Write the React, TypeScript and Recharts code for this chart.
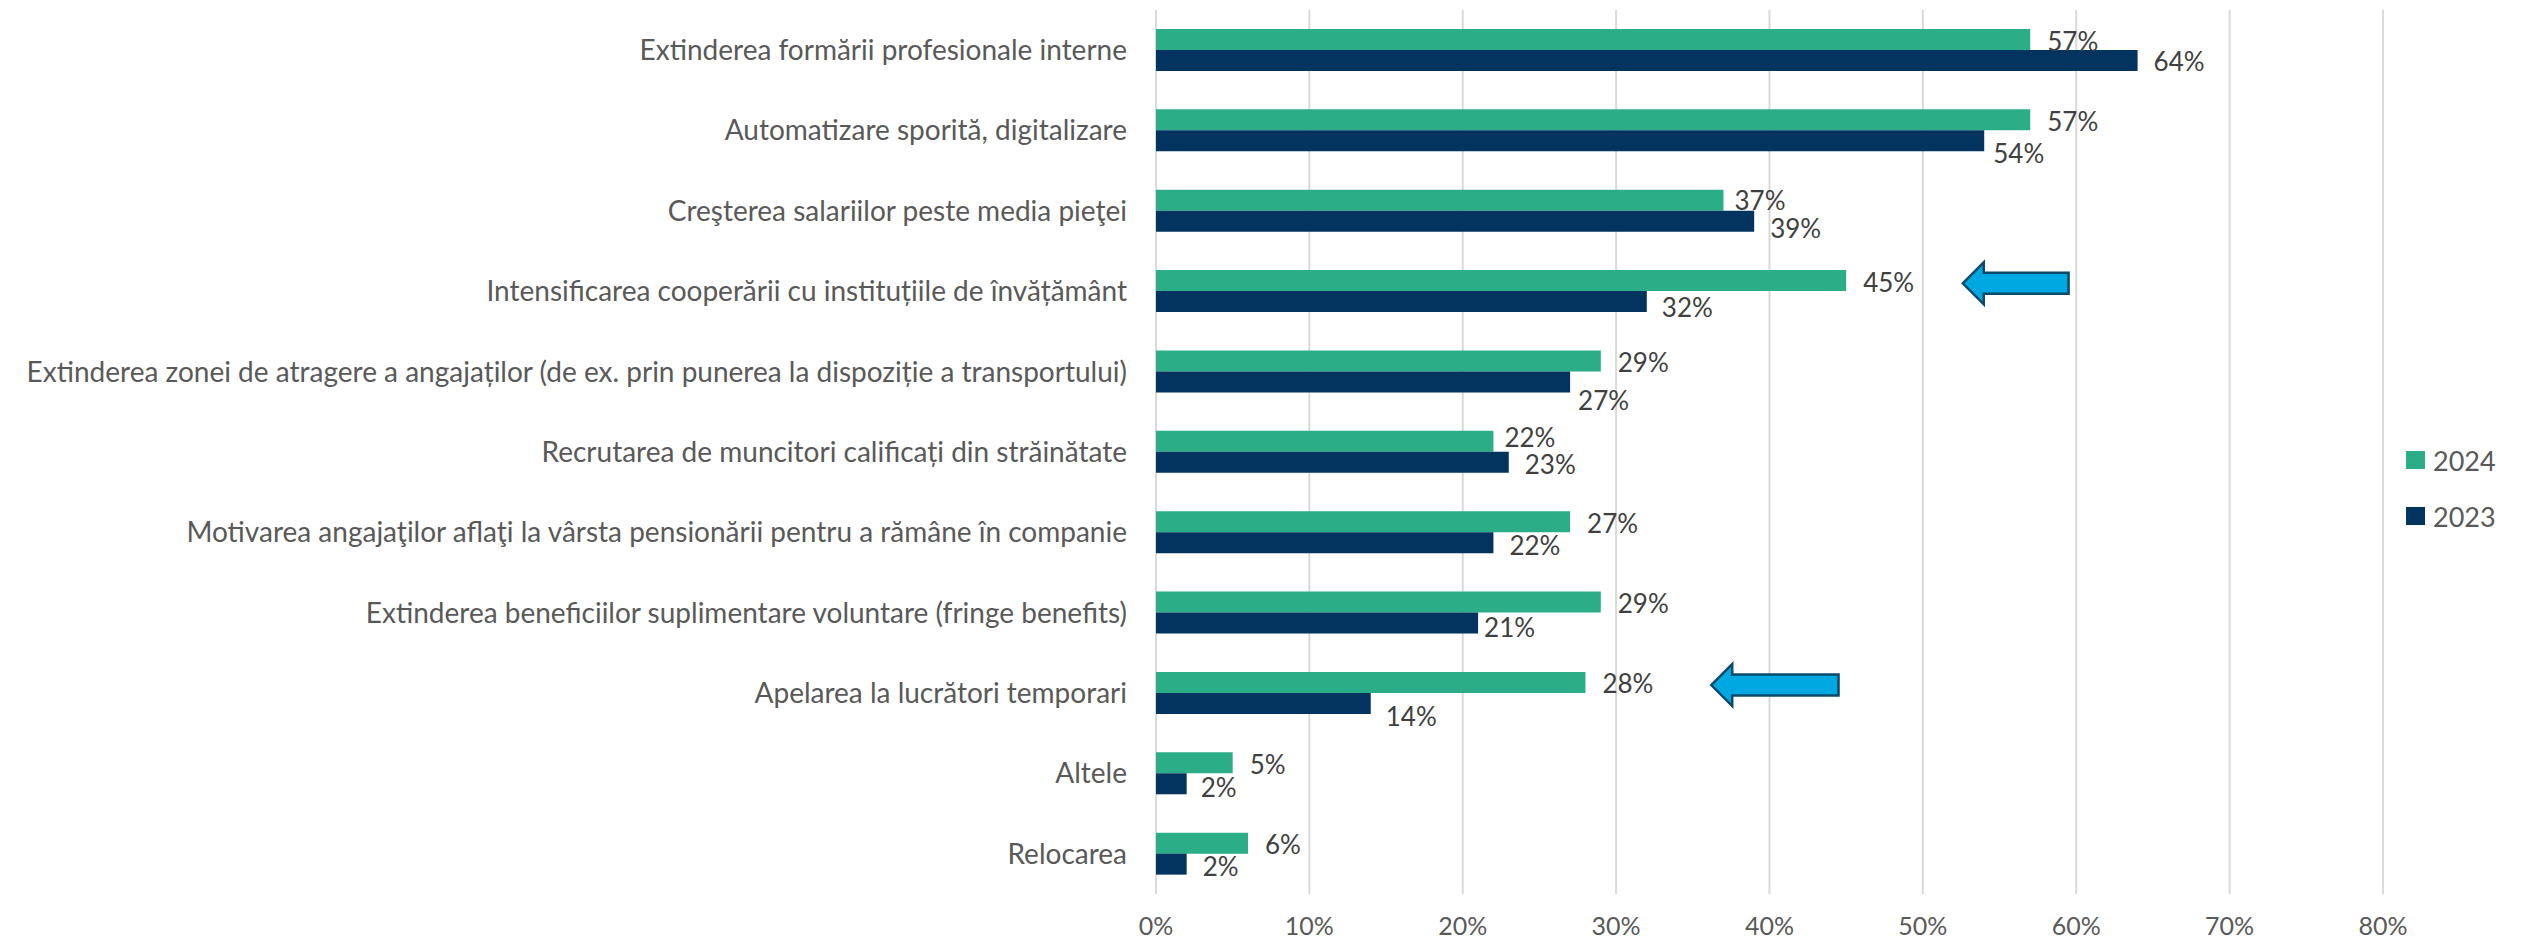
import { BarChart, Bar, XAxis, YAxis, CartesianGrid, Legend, LabelList, ReferenceArea } from "recharts"

const categories = [
  "Extinderea formării profesionale interne",
  "Automatizare sporită, digitalizare",
  "Creşterea salariilor peste media pieţei",
  "Intensificarea cooperării cu instituțiile de învățământ",
  "Extinderea zonei de atragere a angajaților (de ex. prin punerea la dispoziție a transportului)",
  "Recrutarea de muncitori calificați din străinătate",
  "Motivarea angajaţilor aflaţi la vârsta pensionării pentru a rămâne în companie",
  "Extinderea beneficiilor suplimentare voluntare (fringe benefits)",
  "Apelarea la lucrători temporari",
  "Altele",
  "Relocarea",
]
const values2024 = [57, 57, 37, 45, 29, 22, 27, 29, 28, 5, 6]
const values2023 = [64, 54, 39, 32, 27, 23, 22, 21, 14, 2, 2]
const xTicks = [0, 10, 20, 30, 40, 50, 60, 70, 80]

// highlighted rows: arrow from / to (in %)
const arrows = [
  { category: categories[3], from: 52.6, to: 59.5 },
  { category: categories[8], from: 36.2, to: 44.5 },
]

const data = categories.map((name, i) => ({ name, y2024: values2024[i], y2023: values2023[i] }))

const GREEN = "#2BAE87"
const NAVY = "#03335F"
const FONT = "Lato, 'Noto Sans', sans-serif"

// hand placed labels in the original: [gap after bar, vertical shift]
const nudge2024: Record<number, [number, number]> = { 2: [11, 0], 5: [11, -4] }
const nudge2023: Record<number, [number, number]> = {
  0: [16, 0], 1: [9, 12], 2: [16, 7], 3: [15, 5], 4: [8, 18], 7: [6, 4], 8: [15, 13], 9: [14, 3],
}

const makeLabel = (nudges: Record<number, [number, number]>, def: [number, number]) => (props: any) => {
  const { x, y, width, height, value, index } = props
  const [gap, dy] = nudges[index] ?? def
  return (
    <text
      x={x + width + gap}
      y={y + height / 2 + dy}
      dominantBaseline="central"
      textAnchor="start"
      fontFamily={FONT}
      fontSize={26}
      fill="#404040"
    >
      {value}%
    </text>
  )
}

const Arrow = (props: any) => {
  const { x, y, width, height } = props
  const cy = y + height / 2 - 8
  const tip = x
  const tail = x + width
  const head = tip + 21
  const pts = [
    [tip, cy],
    [head, cy - 21],
    [head, cy - 10.5],
    [tail, cy - 10.5],
    [tail, cy + 10.5],
    [head, cy + 10.5],
    [head, cy + 21],
  ]
  return <polygon points={pts.map((p) => p.join(",")).join(" ")} fill="#00A8E1" stroke="#0C4A6B" strokeWidth={2.5} />
}

const renderLegend = () => (
  <div style={{ fontFamily: FONT, fontSize: 27, color: "#595959" }}>
    {[
      { label: "2024", color: GREEN },
      { label: "2023", color: NAVY },
    ].map((it) => (
      <div key={it.label} style={{ display: "flex", alignItems: "center", height: 56 }}>
        <span style={{ display: "inline-block", width: 19, height: 18, background: it.color, marginRight: 8 }} />
        <span>{it.label}</span>
      </div>
    ))}
  </div>
)

export default function App() {
  return (
    <div style={{ position: "absolute", left: 0, top: 0, background: "#fff" }}>
      <BarChart
        width={2521}
        height={942}
        data={data}
        layout="vertical"
        margin={{ top: 10, right: 138, bottom: 0, left: 0 }}
        barSize={21}
        barGap={0}
      >
        <CartesianGrid horizontal={false} stroke="#D9D9D9" strokeWidth={2} />
        <XAxis
          type="number"
          domain={[0, 80]}
          ticks={xTicks}
          tickFormatter={(v) => `${v}%`}
          axisLine={false}
          tickLine={false}
          tickSize={0}
          tickMargin={23}
          height={48}
          tick={{ fill: "#595959", fontSize: 25, fontFamily: FONT }}
        />
        <YAxis
          type="category"
          dataKey="name"
          width={1156}
          axisLine={false}
          tickLine={false}
          tickSize={0}
          tickMargin={29}
          interval={0}
          tick={{ fill: "#595959", fontSize: 28, fontFamily: FONT }}
        />
        <Legend
          layout="vertical"
          align="center"
          verticalAlign="middle"
          wrapperStyle={{ left: 2406, top: 432, width: "auto" }}
          content={renderLegend}
        />
        <Bar dataKey="y2024" name="2024" fill={GREEN} isAnimationActive={false}>
          <LabelList dataKey="y2024" content={makeLabel(nudge2024, [17, 1])} />
        </Bar>
        <Bar dataKey="y2023" name="2023" fill={NAVY} isAnimationActive={false}>
          <LabelList dataKey="y2023" content={makeLabel(nudge2023, [16, 2])} />
        </Bar>
        {arrows.map((a) => (
          <ReferenceArea key={a.category} x1={a.from} x2={a.to} y1={a.category} y2={a.category} shape={Arrow} />
        ))}
      </BarChart>
    </div>
  )
}
